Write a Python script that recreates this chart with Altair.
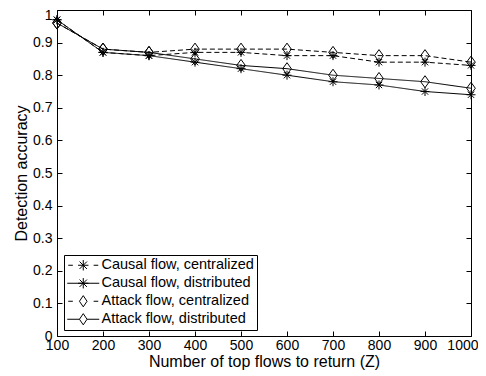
import altair as alt
import pandas as pd

z = [100, 200, 300, 400, 500, 600, 700, 800, 900, 1000]
causal_cent = [0.97, 0.87, 0.86, 0.87, 0.87, 0.86, 0.86, 0.84, 0.84, 0.83]
causal_dist = [0.97, 0.87, 0.86, 0.84, 0.82, 0.80, 0.78, 0.77, 0.75, 0.74]
attack_cent = [0.96, 0.88, 0.87, 0.88, 0.88, 0.88, 0.87, 0.86, 0.86, 0.84]
attack_dist = [0.96, 0.88, 0.87, 0.85, 0.83, 0.82, 0.80, 0.79, 0.78, 0.76]

series_names = [
    "Causal flow, centralized",
    "Causal flow, distributed",
    "Attack flow, centralized",
    "Attack flow, distributed",
]
series_vals = [causal_cent, causal_dist, attack_cent, attack_dist]
series_marker = ["star", "star", "diamond", "diamond"]
series_dash = ["dashed", "solid", "dashed", "solid"]

x_ticks = [100, 200, 300, 400, 500, 600, 700, 800, 900, 1000]
y_ticks = [0, 0.1, 0.2, 0.3, 0.4, 0.5, 0.6, 0.7, 0.8, 0.9, 1]

rows = []
for name, vals, mk, ds in zip(series_names, series_vals, series_marker, series_dash):
    for zz, v in zip(z, vals):
        rows.append({"z": zz, "acc": v, "series": name, "marker": mk, "dash": ds})
df = pd.DataFrame(rows)

FONT = "Liberation Sans"

STAR = "M0,-1L0,1M-1,0L1,0M-0.7,-0.7L0.7,0.7M-0.7,0.7L0.7,-0.7"
DIAMOND = "M0,-1L0.72,0L0,1L-0.72,0Z"

LSTAR = "M0,-1.3L0,1.3M-1.3,0L1.3,0M-0.92,-0.92L0.92,0.92M-0.92,0.92L0.92,-0.92"
LDIAM = "M0,-1.4L0.95,0L0,1.4L-0.95,0Z"
legend_paths = [
    "M-3.75,0L-2.6,0M2.6,0L3.75,0" + LSTAR,
    "M-4,0L4,0" + LSTAR,
    "M-3.75,0L-2.6,0M2.6,0L3.75,0" + LDIAM,
    "M-4,0L-0.95,0M0.95,0L4,0" + LDIAM,
]

xscale = alt.Scale(domain=[100, 1000], nice=False, zero=False)
yscale = alt.Scale(domain=[0, 1], nice=False, zero=False)

last_x = "datum.value == 1000"
top_y = "datum.value == 1"

x_main = alt.X(
    "z:Q", scale=xscale,
    axis=alt.Axis(
        orient="bottom", values=x_ticks, offset=-5, tickSize=5, domain=False,
        grid=False, labelPadding=2, labelFont=FONT, labelFontSize=14,
        labelColor="black", tickColor="black", labelFlush=False, format="d",
        labelOverlap=False,
        labelAlign={"condition": {"test": last_x, "value": "right"},
                    "value": "center"},
        labelOffset={"condition": {"test": last_x, "value": 7},
                     "value": 0},
        title="Number of top flows to return (Z)", titleFont=FONT,
        titleFontSize=16, titleFontWeight="normal", titleColor="black",
        titlePadding=1,
    ),
)
y_main = alt.Y(
    "acc:Q", scale=yscale,
    axis=alt.Axis(
        orient="left", values=y_ticks, offset=-5, tickSize=5, domain=False,
        grid=False, labelPadding=5, labelFont=FONT, labelFontSize=14,
        labelColor="black", tickColor="black", format="~g", labelFlush=False,
        labelOverlap=False,
        labelOffset={"condition": {"test": top_y, "value": 5}, "value": 0},
        title="Detection accuracy", titleFont=FONT, titleFontSize=16,
        titleFontWeight="normal", titleColor="black", titlePadding=3,
    ),
)
x_top = alt.X(
    "z:Q", scale=xscale,
    axis=alt.Axis(orient="top", values=x_ticks, offset=-5, tickSize=5,
                  domain=False, grid=False, labels=False, title=None,
                  tickColor="black"),
)
y_right = alt.Y(
    "acc:Q", scale=yscale,
    axis=alt.Axis(orient="right", values=y_ticks, offset=-5, tickSize=5,
                  domain=False, grid=False, labels=False, title=None,
                  tickColor="black"),
)
x_none = alt.X("z:Q", scale=xscale, axis=None)
y_none = alt.Y("acc:Q", scale=yscale, axis=None)

base = alt.Chart(df)

axes_main = base.mark_point(opacity=0).encode(x=x_main, y=y_main)
axes_other = base.mark_point(opacity=0).encode(x=x_top, y=y_right)

lines = base.mark_line(color="black", strokeWidth=1).encode(
    x=x_none, y=y_none,
    detail="series:N",
    strokeDash=alt.StrokeDash(
        "dash:N",
        scale=alt.Scale(domain=["dashed", "solid"], range=[[5, 3], [1, 0]]),
        legend=None,
    ),
)

stars = base.transform_filter(alt.datum.marker == "star").mark_point(
    shape=STAR, size=81, filled=False, color="black", strokeWidth=1, opacity=1
).encode(x=x_none, y=y_none)

diamonds = base.transform_filter(alt.datum.marker == "diamond").mark_point(
    shape=DIAMOND, size=144, filled=False, color="black", strokeWidth=1,
    opacity=1
).encode(x=x_none, y=y_none)

legend_layer = base.transform_filter("datum.z < 0").mark_point(
    filled=False, color="black", strokeWidth=1
).encode(
    x=x_none, y=y_none,
    shape=alt.Shape(
        "series:N",
        scale=alt.Scale(domain=series_names, range=legend_paths),
        legend=alt.Legend(
            title=None, orient="none", legendX=7, legendY=245,
            symbolSize=64, symbolOffset=9, symbolStrokeColor="black",
            symbolFillColor="transparent", symbolStrokeWidth=1,
            symbolOpacity=1, labelOffset=11, labelFont=FONT,
            labelFontSize=14.5, labelColor="black", labelLimit=400,
            rowPadding=2, padding=3, strokeColor="black", fillColor="white",
            cornerRadius=0,
        ),
    ),
)

chart = alt.layer(
    axes_main, axes_other, lines, stars, diamonds, legend_layer
).resolve_axis(x="independent", y="independent").properties(
    width=414, height=326,
    autosize=alt.AutoSizeParams(type="none"),
    padding={"left": 49, "top": 2, "right": 7, "bottom": 38},
).configure_view(stroke="black", strokeWidth=1)

chart.save("out.html", embed_options={"renderer": "svg", "actions": False})
